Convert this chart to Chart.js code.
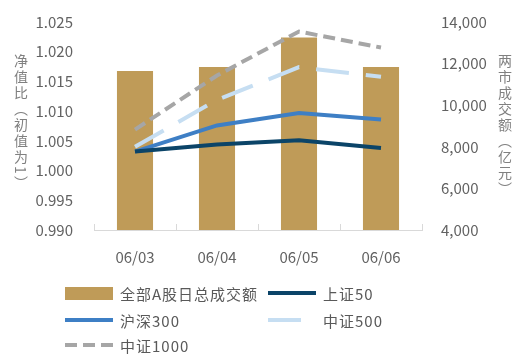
<!DOCTYPE html>
<html>
<head>
<meta charset="utf-8">
<script src="https://cdn.jsdelivr.net/npm/chart.js@4.4.1/dist/chart.umd.min.js"></script>
<style>
  html,body{margin:0;padding:0;background:#fff;}
  #wrap{position:relative;width:525px;height:360px;overflow:hidden;}
  canvas{position:absolute;left:0;top:0;}
  .vt{position:absolute;writing-mode:vertical-rl;font-family:"Noto Sans CJK SC",sans-serif;font-size:14px;line-height:15px;letter-spacing:2px;color:#808080;}
  .lg{position:absolute;display:flex;align-items:center;font-family:"Noto Sans CJK SC",sans-serif;font-size:15px;color:#595959;letter-spacing:1px;white-space:nowrap;}
  .lg .sw{width:48px;height:14px;margin-right:7px;display:flex;align-items:center;}
</style>
</head>
<body>
<div id="wrap">
  <canvas id="c" width="525" height="360"></canvas>
  <div class="vt" style="left:13px;top:54px;">净值比（初值为1）</div>
  <div class="vt" style="left:497px;top:54px;">两市成交额（亿元）</div>
  <div id="legend"></div>
</div>
<script>
// ---- data ----
const categories = ['06/03', '06/04', '06/05', '06/06'];
const turnover = [11650, 11840, 13250, 11840];      // 全部A股日总成交额 (亿元)
const sz50 = [1.0032, 1.0044, 1.0051, 1.0038];      // 上证50
const hs300 = [1.0032, 1.0076, 1.0097, 1.0086];     // 沪深300
const zz500 = [1.0040, 1.0119, 1.0174, 1.0158];     // 中证500
const zz1000 = [1.0069, 1.0160, 1.0234, 1.0207];    // 中证1000
const leftTicks = { min: 0.99, max: 1.025, step: 0.005 };
const rightTicks = { min: 4000, max: 14000, step: 2000 };

const FONT = '"Noto Sans CJK SC", sans-serif';
const TXT = '#626262';

function lineDs(label, data, color, dash) {
  return {
    type: 'line', label, data, yAxisID: 'y',
    borderColor: color, backgroundColor: color,
    borderWidth: 4, borderDash: dash || [],
    pointRadius: 0, tension: 0, fill: false, order: 1
  };
}

const datasets = [
  { type: 'bar', label: '全部A股日总成交额', data: turnover, yAxisID: 'y1',
    backgroundColor: '#BF9B58', borderWidth: 0,
    barPercentage: 0.44, categoryPercentage: 1.0, order: 10 },
  lineDs('上证50', sz50, '#0B4468'),
  lineDs('沪深300', hs300, '#3E7FC5'),
  lineDs('中证500', zz500, '#C6DEF2', [33, 17]),
  lineDs('中证1000', zz1000, '#A6A6A6', [12, 6])
];

// small upward tick marks at category boundaries on the x axis
const upTicks = {
  id: 'upTicks',
  afterDatasetsDraw(chart) {
    const { ctx, chartArea, scales } = chart;
    const x = scales.x;
    const n = chart.data.labels.length;
    ctx.save();
    ctx.strokeStyle = '#d9d9d9';
    ctx.lineWidth = 1;
    ctx.beginPath();
    for (let i = 0; i <= n; i++) {
      const px = i < n ? x.getPixelForTick(i) - (x.getPixelForTick(1) - x.getPixelForTick(0)) / 2
                       : chartArea.right;
      const xx = Math.round(px) + 0.5;
      ctx.moveTo(xx, chartArea.bottom - 6);
      ctx.lineTo(xx, chartArea.bottom);
    }
    ctx.stroke();
    ctx.restore();
  }
};

const chart = new Chart(document.getElementById('c'), {
  data: { labels: categories, datasets },
  plugins: [upTicks],
  options: {
    responsive: false,
    animation: false,
    layout: { padding: { top: 17, left: 0, right: 0, bottom: 0 } },
    plugins: { legend: { display: false }, tooltip: { enabled: false } },
    scales: {
      x: {
        grid: { display: false },
        border: { display: true, color: '#d9d9d9', width: 1 },
        ticks: { color: TXT, font: { family: FONT, size: 15 }, padding: 10 },
        afterFit: s => { s.height = 130; }
      },
      y: {
        position: 'left',
        min: leftTicks.min, max: leftTicks.max,
        grid: { display: false },
        border: { display: false },
        ticks: { stepSize: leftTicks.step, color: TXT, font: { family: FONT, size: 15 }, padding: 13,
                 callback: v => Number(v).toFixed(3) },
        afterFit: s => { s.width = 94; }
      },
      y1: {
        position: 'right',
        min: rightTicks.min, max: rightTicks.max,
        grid: { display: false },
        border: { display: false },
        ticks: { stepSize: rightTicks.step, color: TXT, font: { family: FONT, size: 15 }, padding: 11,
                 callback: v => Number(v).toLocaleString('en-US') },
        afterFit: s => { s.width = 103; }
      }
    }
  }
});

// ---- HTML legend built from the datasets (2 columns) ----
const legend = document.getElementById('legend');
const colX = [65, 268];
const rowY = [293, 320, 345];
chart.data.datasets.forEach((ds, i) => {
  const item = document.createElement('div');
  item.className = 'lg';
  const col = i % 2, row = Math.floor(i / 2);
  item.style.left = colX[col] + 'px';
  item.style.top = (rowY[row] - 11) + 'px';
  item.style.height = '22px';
  const sw = document.createElement('div');
  sw.className = 'sw';
  if (ds.type === 'bar') {
    sw.innerHTML = '<div style="width:50px;height:13px;background:' + ds.backgroundColor + '"></div>';
  } else {
    const dash = ds.borderDash && ds.borderDash.length ? ds.borderDash.join(',') : 'none';
    sw.innerHTML = '<svg width="48" height="8"><line x1="0" y1="4" x2="48" y2="4" stroke="' + ds.borderColor +
      '" stroke-width="4" stroke-dasharray="' + dash + '"/></svg>';
  }
  const tx = document.createElement('span');
  tx.textContent = ds.label;
  item.appendChild(sw);
  item.appendChild(tx);
  legend.appendChild(item);
});
</script>
</body>
</html>
